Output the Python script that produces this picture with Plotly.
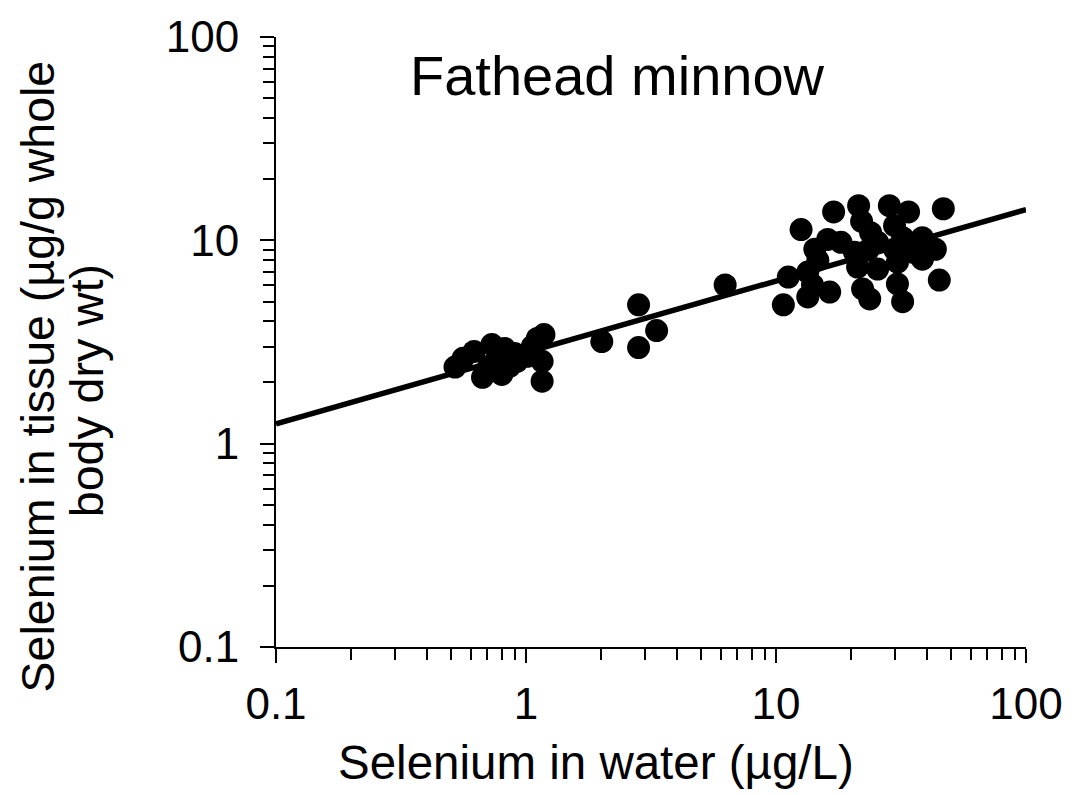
import numpy as np
import plotly.graph_objects as go

# Selenium in water (µg/L) and in whole-body tissue (µg/g dry wt), fathead minnow
water_se = [
    0.52, 0.56, 0.62, 0.73, 0.82, 0.90, 0.77, 0.92, 0.67, 0.80,
    1.01, 1.06, 1.11, 1.18, 1.16, 1.16, 0.71, 0.86,
    2.01, 2.82, 2.82, 3.33, 6.26,
    12.6, 17.0, 21.4, 28.4, 33.9, 46.7, 22.0, 29.8, 14.3, 16.1,
    18.2, 23.9, 23.3, 29.8, 38.5, 43.4, 38.5, 11.2, 13.4, 13.4,
    16.4, 10.7, 22.2, 23.7, 30.6, 32.1, 45.0, 25.5, 30.6, 20.6,
    25.5, 32.1, 21.2, 35.1, 14.7, 14.0,
]
tissue_se = [
    2.38, 2.63, 2.84, 3.07, 2.94, 2.78, 2.54, 2.54, 2.12, 2.19,
    2.69, 3.01, 3.29, 3.44, 2.54, 2.03, 2.40, 2.40,
    3.18, 4.82, 2.97, 3.60, 6.03,
    11.3, 13.8, 14.8, 14.8, 13.8, 14.3, 12.4, 11.8, 9.04, 10.1,
    9.78, 10.9, 8.94, 9.04, 10.3, 9.04, 8.08, 6.60, 6.98, 5.27,
    5.57, 4.82, 5.77, 5.15, 6.10, 4.99, 6.38, 7.22, 7.81, 8.74,
    9.78, 10.3, 7.39, 8.74, 7.99, 6.03,
]

tick_vals = [0.1, 1, 10, 100]
tick_text = ["0.1", "1", "10", "100"]

FONT = "Arial, Liberation Sans, sans-serif"

# Power-law trend line fitted in log-log space
b, log_a = np.polyfit(np.log10(water_se), np.log10(tissue_se), 1)
trend_x = np.array([0.1, 100.0])
trend_y = 10 ** log_a * trend_x ** b

fig = go.Figure()
fig.add_trace(go.Scatter(
    x=water_se, y=tissue_se, mode="markers",
    marker=dict(color="black", size=23, line=dict(width=0)),
    showlegend=False, hoverinfo="x+y",
))
fig.add_trace(go.Scatter(
    x=trend_x, y=trend_y, mode="lines",
    line=dict(color="black", width=5.5),
    showlegend=False, hoverinfo="skip",
))

axis_common = dict(
    type="log", range=[-1, 2],
    tickvals=tick_vals, ticktext=tick_text,
    showgrid=False, zeroline=False,
    showline=True, linecolor="black", linewidth=2,
    ticks="outside", ticklen=14, tickwidth=2, tickcolor="black",
    tickfont=dict(family=FONT, size=44, color="black"),
    minor=dict(ticks="outside", ticklen=11, tickwidth=1.5,
               tickcolor="black", dtick="D1", showgrid=False),
)

fig.update_xaxes(**axis_common, ticklabelstandoff=3)
fig.update_yaxes(**axis_common, ticklabelstandoff=12)

L, R, T, B = 276, 47, 33, 148
W, H = 1075, 795
pw, ph = W - L - R, H - T - B


def px_to_paper(px, py):
    return (px - L) / pw, (H - B - py) / ph


def label(text, px, py, size, angle=0):
    x, y = px_to_paper(px, py)
    return dict(text=text, x=x, y=y, xref="paper", yref="paper",
                showarrow=False, xanchor="center", yanchor="middle",
                textangle=angle,
                font=dict(family=FONT, size=size, color="black"))


annotations = [
    label("Fathead minnow", 618, 72, 56),
    label("Selenium in water (µg/L)", 597, 763, 47.5),
    label("Selenium in tissue (µg/g whole", 37, 375, 46.5, -90),
    label("body dry wt)", 86, 389, 46.5, -90),
]

fig.update_layout(
    width=W, height=H,
    margin=dict(l=L, r=R, t=T, b=B),
    paper_bgcolor="white", plot_bgcolor="white",
    annotations=annotations,
)

fig.write_html("out.html")
